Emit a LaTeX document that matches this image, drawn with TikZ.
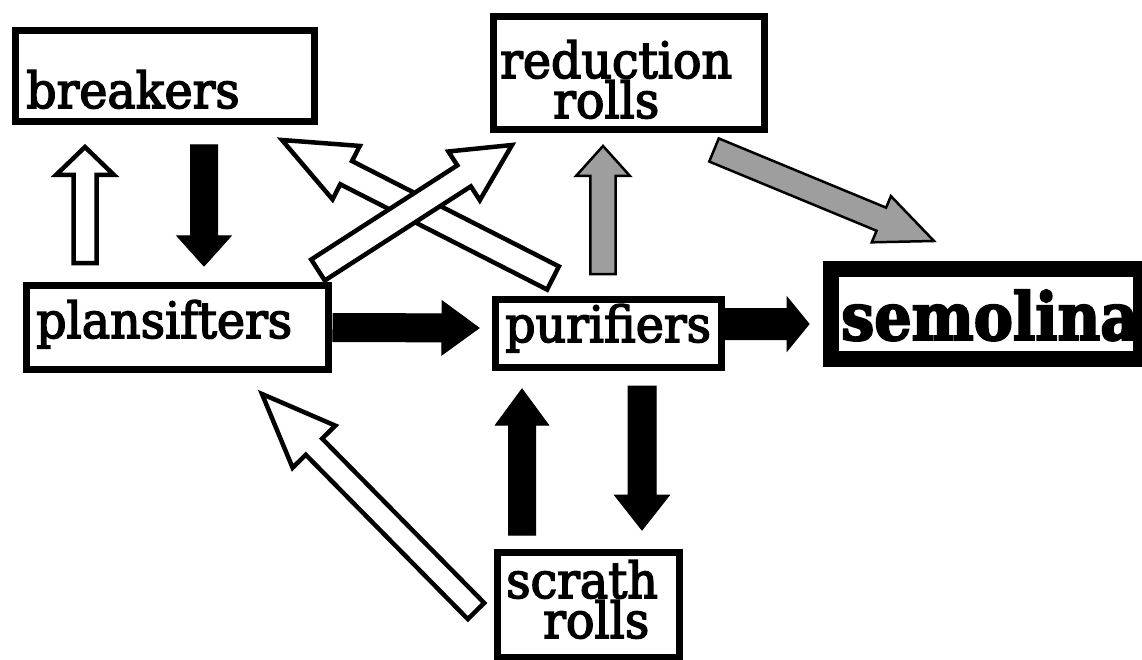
\documentclass[tikz,border=0pt]{standalone}
\usepackage{fontspec}
\setmainfont{DejaVu Serif}[FakeStretch=0.95, FakeBold=3]
\newfontfamily\semfont{DejaVu Serif}[FakeStretch=0.89, FakeBold=3]
\usetikzlibrary{calc}

% block arrow: [style]{tail}{tip}{shaft half width}{head half width}{head length}
\newcommand\blockarrow[6][]{%
  \coordinate (ba-h) at ($(#3)!#6pt!(#2)$);
  \draw[#1] ($(#2)!#4pt!90:(#3)$) -- ($(ba-h)!#4pt!-90:(#2)$)
    -- ($(ba-h)!#5pt!-90:(#2)$) -- (#3) -- ($(ba-h)!#5pt!90:(#2)$)
    -- ($(ba-h)!#4pt!90:(#2)$) -- ($(#2)!#4pt!-90:(#3)$) -- cycle;
}
% two-line label, baseline of the first line, second line indented
\newcommand\twolines[3]{\vtop{\lineskiplimit=-100pt\hbox{#1}\hbox{\hspace{#3pt}#2}}}

\tikzset{
  box/.style={draw=black, line width=7pt, rectangle, inner sep=0pt, fill=white},
  lbl/.style={anchor=base west, inner sep=0pt, font=\fontsize{50}{40}\selectfont},
  warrow/.style={draw=black, fill=white, line width=4.5pt, line join=miter, miter limit=20},
  karrow/.style={draw=black, fill=black, line width=1pt, line join=miter},
  garrow/.style={draw=black, fill=black!38, line width=2.5pt, line join=miter, miter limit=20},
}

\begin{document}
\begin{tikzpicture}[x=1pt, y=-1pt]
\useasboundingbox (0,0) rectangle (1142,660);
\clip (0,0) rectangle (1142,660);
\fill[white] (0,0) rectangle (1142,660);

% boxes
\node[box, minimum width=299pt, minimum height=91pt]  (breakers)    at (165,76)    {};
\node[box, minimum width=271pt, minimum height=113pt] (reduction)   at (629,73)    {};
\node[box, minimum width=302pt, minimum height=84pt]  (plansifters) at (177.5,327.5) {};
\node[box, minimum width=226pt, minimum height=68pt]  (purifiers)   at (608.5,333.5) {};
\node[box, minimum width=182pt, minimum height=105pt] (scrath)      at (588.5,605) {};

% labels
\node[lbl] (breakers-t)    at (26,108)  {breakers};
\node[lbl] (reduction-t)   at (500,78)  {\twolines{reduction}{rolls}{53}};
\node[lbl] (plansifters-t) at (36,338)  {plansifters};
\node[lbl] (purifiers-t)   at (505,342) {purifiers};
\node[lbl] (scrath-t)      at (506,598) {\twolines{scrath}{rolls}{37}};
\node[lbl, font=\fontsize{66}{70}\semfont\bfseries] (semolina-t) at (841,340) {semolina};
% semolina frame drawn over its label, which runs under the right edge
\node[draw=black, line width=16pt, rectangle, inner sep=0pt,
      minimum width=310pt, minimum height=90pt] (semolina) at (986,314) {};

% arrow end points
\coordinate (a1s) at (85,263);   \coordinate (a1e) at (85,147);
\coordinate (a2s) at (204,145);  \coordinate (a2e) at (204,266);
\coordinate (a3s) at (318,270);  \coordinate (a3e) at (512,145);
\coordinate (a4s) at (553,278);  \coordinate (a4e) at (282,140);
\coordinate (a5s) at (603,274);  \coordinate (a5e) at (603,146);
\coordinate (a6s) at (714,150);  \coordinate (a6e) at (934,241);
\coordinate (a7s) at (333,327.5);\coordinate (a7e) at (479,328);
\coordinate (a8s) at (725,324);  \coordinate (a8e) at (809,324);
\coordinate (a9s) at (522,535);  \coordinate (a9e) at (522,389);
\coordinate (a10s) at (642,386); \coordinate (a10e) at (642,530);
\coordinate (a11s) at (476,611); \coordinate (a11e) at (262,394);

% plansifters <-> breakers
\blockarrow[warrow]{a1s}{a1e}{11.5}{29}{28}
\blockarrow[karrow]{a2s}{a2e}{13.5}{27}{30}
% purifiers -> breakers, plansifters -> reduction rolls
\blockarrow[warrow]{a4s}{a4e}{13}{30}{72}
\blockarrow[warrow]{a3s}{a3e}{12.5}{29}{57}
% purifiers -> reduction rolls -> semolina
\blockarrow[garrow]{a5s}{a5e}{12.7}{27}{30}
\blockarrow[garrow]{a6s}{a6e}{12.5}{25}{57}
% main line
\blockarrow[karrow]{a7s}{a7e}{14}{27}{37}
\blockarrow[karrow]{a8s}{a8e}{15.5}{27}{22}
% purifiers <-> scrath rolls
\blockarrow[karrow]{a9s}{a9e}{13.5}{26.5}{36}
\blockarrow[karrow]{a10s}{a10e}{14}{27.5}{35}
% scrath rolls -> plansifters
\blockarrow[warrow]{a11s}{a11e}{11.5}{30}{74}
\end{tikzpicture}
\end{document}
